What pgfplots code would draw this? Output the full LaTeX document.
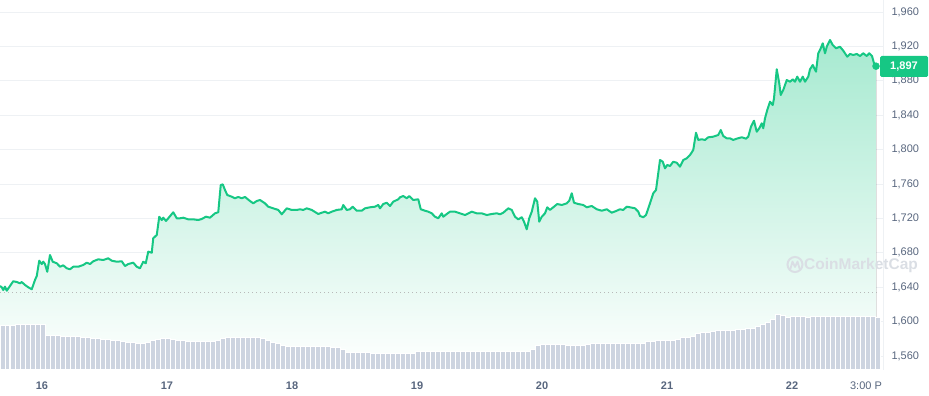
\documentclass[border=0pt]{standalone}
\usepackage{pgfplots}
\pgfplotsset{compat=1.18}
\usepackage{pgfplotstable}
\usepgfplotslibrary{fillbetween}
\usepackage{fontspec}
\setmainfont{Liberation Sans}
\definecolor{cmcgreen}{HTML}{16C784}
\definecolor{lbl}{HTML}{58667E}
\definecolor{gridc}{HTML}{EEF1F4}
\definecolor{barc}{HTML}{CDD4E0}
\definecolor{wm}{HTML}{DADEE4}

\pgfplotstableread{
x y
15.664 1641.4
15.678 1639.9
15.690 1636.7
15.704 1640.6
15.718 1635.9
15.744 1641.4
15.770 1646.9
15.798 1646.0
15.824 1644.5
15.838 1646.0
15.864 1642.6
15.890 1639.9
15.918 1637.6
15.944 1648.4
15.958 1653.0
15.978 1670.8
15.998 1666.9
16.010 1669.6
16.024 1666.9
16.042 1657.9
16.064 1677.4
16.086 1669.6
16.118 1667.8
16.144 1663.8
16.170 1665.4
16.198 1662.0
16.224 1660.8
16.250 1663.8
16.290 1663.8
16.330 1665.8
16.358 1668.5
16.384 1666.9
16.410 1670.1
16.450 1672.4
16.490 1671.6
16.530 1673.6
16.558 1670.8
16.598 1669.6
16.638 1670.1
16.664 1664.6
16.690 1666.9
16.730 1668.5
16.758 1663.8
16.784 1662.0
16.810 1669.6
16.830 1667.8
16.850 1681.3
16.878 1680.1
16.890 1696.9
16.918 1700.7
16.938 1721.9
16.958 1718.1
16.970 1720.8
16.992 1717.0
17.010 1720.1
17.050 1727.1
17.078 1720.1
17.104 1720.1
17.130 1720.8
17.170 1718.9
17.210 1718.9
17.250 1718.1
17.278 1719.3
17.312 1722.0
17.344 1720.8
17.384 1725.9
17.410 1727.1
17.430 1758.8
17.446 1759.6
17.464 1753.0
17.482 1747.2
17.518 1745.2
17.544 1743.4
17.570 1744.9
17.598 1743.4
17.624 1744.9
17.664 1740.2
17.690 1737.5
17.718 1740.2
17.744 1741.4
17.784 1737.5
17.810 1733.6
17.850 1731.7
17.890 1729.8
17.918 1724.8
17.958 1731.7
17.998 1729.8
18.038 1729.8
18.064 1730.6
18.090 1729.8
18.118 1731.7
18.158 1729.8
18.210 1725.1
18.238 1726.6
18.264 1727.8
18.290 1725.9
18.318 1727.8
18.358 1729.8
18.398 1730.6
18.410 1735.6
18.438 1729.8
18.464 1730.6
18.486 1733.6
18.518 1728.9
18.558 1728.9
18.584 1731.7
18.624 1732.9
18.664 1733.6
18.690 1735.6
18.704 1731.7
18.730 1736.7
18.758 1738.2
18.784 1734.4
18.810 1739.4
18.850 1742.2
18.864 1744.5
18.890 1746.0
18.918 1743.4
18.938 1746.0
18.970 1741.4
19.010 1742.2
19.030 1730.6
19.064 1728.9
19.090 1727.8
19.118 1725.9
19.144 1721.9
19.170 1720.1
19.198 1725.9
19.210 1721.9
19.238 1725.1
19.264 1727.8
19.304 1727.8
19.344 1725.9
19.384 1723.9
19.438 1727.8
19.478 1725.9
19.518 1725.9
19.558 1723.9
19.598 1725.1
19.638 1725.9
19.664 1724.8
19.690 1726.6
19.730 1731.7
19.758 1729.8
19.784 1721.9
19.810 1718.9
19.838 1721.3
19.856 1716.2
19.878 1707.3
19.898 1720.1
19.918 1727.8
19.944 1743.4
19.962 1739.4
19.978 1716.2
19.998 1721.9
20.024 1725.9
20.042 1732.9
20.064 1729.8
20.090 1732.9
20.122 1736.7
20.158 1735.6
20.198 1737.5
20.218 1740.6
20.238 1749.2
20.256 1738.2
20.290 1736.7
20.330 1735.6
20.358 1732.9
20.398 1734.4
20.438 1730.6
20.478 1728.9
20.518 1730.6
20.558 1726.6
20.598 1728.9
20.624 1730.6
20.650 1729.8
20.678 1733.6
20.704 1732.9
20.744 1731.7
20.770 1727.8
20.784 1722.8
20.810 1721.3
20.832 1723.9
20.864 1737.5
20.890 1749.2
20.912 1753.0
20.930 1772.5
20.944 1787.9
20.966 1785.9
20.984 1778.2
21.002 1782.1
21.024 1780.9
21.050 1785.9
21.078 1784.7
21.104 1780.1
21.130 1787.9
21.158 1789.9
21.184 1793.7
21.210 1799.5
21.232 1819.6
21.250 1811.2
21.278 1812.0
21.304 1811.2
21.330 1814.3
21.370 1815.0
21.410 1817.0
21.430 1822.8
21.450 1815.8
21.478 1813.1
21.504 1813.1
21.530 1811.2
21.558 1812.7
21.598 1814.3
21.632 1812.7
21.650 1815.0
21.672 1826.7
21.696 1833.6
21.718 1820.8
21.738 1824.8
21.758 1830.6
21.770 1824.8
21.784 1836.4
21.802 1846.0
21.824 1855.7
21.846 1851.8
21.856 1859.6
21.878 1893.4
21.898 1877.1
21.910 1863.5
21.930 1869.3
21.958 1880.9
21.984 1878.9
22.006 1881.7
22.024 1878.9
22.042 1884.8
22.064 1878.9
22.086 1884.8
22.104 1878.9
22.130 1884.8
22.144 1893.4
22.166 1898.4
22.192 1890.6
22.210 1912.0
22.230 1917.8
22.246 1923.6
22.264 1912.0
22.278 1919.6
22.304 1927.4
22.326 1921.6
22.352 1917.8
22.384 1919.6
22.410 1915.0
22.442 1908.0
22.464 1911.2
22.490 1910.0
22.518 1911.2
22.544 1908.8
22.570 1912.0
22.598 1908.8
22.618 1912.0
22.640 1908.8
22.656 1900.4
22.672 1897.0
}\price

\pgfplotstableread{
v
44
44
44
45
45
45
45
45
45
34
34
34
33
33
33
33
32
32
31
31
30
30
29
29
28
27
27
26
26
27
29
30
31
31
30
29
29
28
28
28
28
28
28
29
31
32
32
32
32
32
32
32
31
29
27
26
24
23
23
23
23
23
23
23
23
23
22
22
20
17
17
17
17
17
16
16
16
16
16
16
16
16
16
18
18
18
18
18
18
18
18
18
18
18
18
18
18
18
18
18
18
18
18
18
18
18
20
24
25
25
25
25
25
24
24
24
24
25
26
26
26
26
26
26
26
26
26
26
26
28
28
29
29
29
29
30
32
32
33
36
37
37
38
39
39
39
39
40
40
41
41
43
45
47
50
55
54
52
53
53
53
52
53
53
53
53
53
53
53
53
53
53
53
53
53
52
52
}\vol

\begin{document}
\begin{tikzpicture}
\begin{axis}[
  at={(0,0)}, anchor=south west,
  scale only axis, width=883pt, height=370pt,
  xmin=15.664, xmax=22.728, ymin=1543.7, ymax=1973.95,
  axis line style={draw=none},
  tick style={draw=none},
  ytick={1560,1600,...,1960},
  yticklabel pos=right,
  ymajorgrids,
  grid style={gridc, line width=0.8pt},
  xtick={16,17,18,19,20,21,22,22.592},
  xticklabels={16,17,18,19,20,21,22,{\mdseries 3:00 P}},
  tick label style={font=\fontsize{11}{13}\selectfont, text=lbl},
  yticklabel style={anchor=west, xshift=5pt, /pgf/number format/.cd, 1000 sep={,}},
  xticklabel style={yshift=-8pt, font=\bfseries\fontsize{11}{13}\selectfont},
  /pgf/number format/assume math mode=true,
  clip mode=individual,
]
\addplot[name path=price, draw=none, forget plot] table[x=x,y=y]{\price};
\path[name path=base] (axis cs:15.664,1543.7) -- (axis cs:22.672,1543.7);
\addplot[top color=cmcgreen!38!white, bottom color=white, draw=none] fill between[of=price and base];
\addplot[gray!55, line width=0.8pt, dash pattern=on 0.8pt off 3.2pt] coordinates {(15.664,1634.4) (22.70,1634.4)};
\addplot[cmcgreen, line width=2pt, line join=round] table[x=x,y=y]{\price};
\addplot[only marks, mark=*, mark size=3.5pt, cmcgreen] coordinates {(22.672,1897)};
\draw[gridc, line width=0.8pt] (rel axis cs:1,0) -- (rel axis cs:1,1);
\end{axis}
\begin{axis}[
  at={(0,0)}, anchor=south west,
  scale only axis, width=883pt, height=370pt,
  xmin=15.664, xmax=22.728, ymin=0, ymax=370,
  hide axis,
]
\addplot[ybar interval, fill=barc, draw=white, line width=1pt] table[x expr=15.664+\coordindex*0.04, y=v]{\vol};
\end{axis}
% watermark
\draw[wm, line width=2pt] (795pt,105.5pt) circle (7.5pt);
\draw[wm, line width=1.8pt, line cap=round, line join=round] (790.5pt,101.5pt) -- (792.5pt,108.5pt) -- (795pt,103pt) -- (797.5pt,108.5pt) -- (799.5pt,101.5pt);
\node[text=wm, font=\bfseries\fontsize{15.5}{17}\selectfont, anchor=west, inner sep=0pt] at (804pt,104.5pt) {CoinMarketCap};
% price label
\node[fill=cmcgreen, text=white, font=\bfseries\fontsize{11}{13}\selectfont, rounded corners=1.5pt, minimum height=21pt, minimum width=48pt, inner sep=0pt] at (904pt,303.5pt) {1,897};
\pgfresetboundingbox
\useasboundingbox (0,-26pt) rectangle (929pt,370pt);
\end{tikzpicture}
\end{document}
